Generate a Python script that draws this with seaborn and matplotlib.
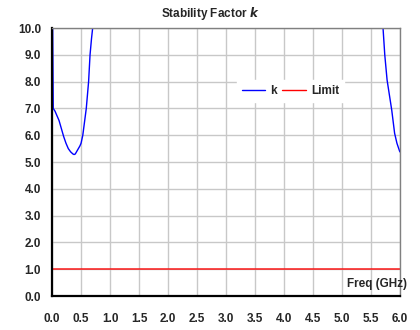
import numpy as np
import pandas as pd
import matplotlib.pyplot as plt
import seaborn as sns
from matplotlib.ticker import MultipleLocator

# Data
freq_ghz = [0.0, 0.01, 0.02, 0.05, 0.08, 0.12, 0.16, 0.20, 0.24, 0.28, 0.32, 0.36,
            0.38, 0.40, 0.44, 0.48, 0.50, 0.53, 0.56, 0.59, 0.61, 0.63, 0.655,
            0.68, 0.70, 0.75, 1.0, 5.5, 5.68, 5.71, 5.74, 5.78, 5.82, 5.86, 5.91,
            5.95, 6.0]
k_vals = [40.0, 10.0, 7.0, 6.9, 6.75, 6.55, 6.25, 5.95, 5.7, 5.5, 5.38, 5.3,
          5.28, 5.3, 5.45, 5.6, 5.7, 6.0, 6.5, 7.0, 7.5, 8.0, 9.0,
          9.6, 10.0, 11.5, 60.0, 60.0, 10.8, 10.0, 9.0, 8.06, 7.5, 6.94, 6.07,
          5.7, 5.38]
limit_freq = [0.0, 6.0]
limit_vals = [1.0, 1.0]


def main():
    df_k = pd.DataFrame({'freq': freq_ghz, 'k': k_vals})
    df_lim = pd.DataFrame({'freq': limit_freq, 'k': limit_vals})

    sns.set_style('white')
    plt.rcParams['font.family'] = ['Liberation Sans', 'DejaVu Sans']
    plt.rcParams['font.weight'] = 'bold'

    fig, ax = plt.subplots(figsize=(4.2, 3.3), dpi=100)
    fig.subplots_adjust(left=0.124, right=0.952, top=0.915, bottom=0.103)

    sns.lineplot(data=df_k, x='freq', y='k', color='#0000ff', linewidth=1.0,
                 sort=False, estimator=None, label='k', ax=ax)
    sns.lineplot(data=df_lim, x='freq', y='k', color='#ff0000', linewidth=1.4,
                 alpha=0.7, sort=False, estimator=None, label='Limit', ax=ax)

    ax.set_xlim(0, 6)
    ax.set_ylim(0, 10)
    ax.xaxis.set_major_locator(MultipleLocator(0.5))
    ax.xaxis.set_minor_locator(MultipleLocator(0.1))
    ax.yaxis.set_major_locator(MultipleLocator(1.0))
    ax.yaxis.set_minor_locator(MultipleLocator(0.2))
    ax.set_xticklabels([f'{v:.1f}' for v in ax.get_xticks()])
    ax.set_yticklabels([f'{v:.1f}' for v in ax.get_yticks()])

    ax.grid(which='major', color='#c8c8c8', linewidth=1.0)
    ax.set_axisbelow(True)
    ax.tick_params(which='both', direction='in', color='black',
                   labelsize=8.5)
    ax.tick_params(which='major', length=4, width=1)
    ax.tick_params(which='minor', length=3, width=1)
    ax.tick_params(axis='x', pad=12)
    ax.tick_params(axis='y', pad=8)
    for lab in ax.get_xticklabels() + ax.get_yticklabels():
        lab.set_fontweight('bold')

    for side in ['left', 'bottom']:
        ax.spines[side].set_color('black')
        ax.spines[side].set_linewidth(1.6)
    for side in ['top', 'right']:
        ax.spines[side].set_color('#808080')
        ax.spines[side].set_linewidth(1.0)

    ax.set_xlabel('')
    ax.set_ylabel('')
    ax.text(1.02, 0.045, 'Freq (GHz)', transform=ax.transAxes, ha='right',
            va='center', fontsize=8.5, fontweight='bold', clip_on=False)
    fig.suptitle(r'Stability Factor $\mathbfit{k}$', fontsize=8.5,
                 fontweight='bold', x=0.5, y=0.96, va='center')

    leg = ax.legend(loc='center', bbox_to_anchor=(0.685, 0.765), ncol=2,
                    frameon=True, fontsize=8.5, handlelength=2.0,
                    columnspacing=0.5, handletextpad=0.4, borderpad=0.4)
    leg.get_frame().set_edgecolor('white')
    leg.get_frame().set_facecolor('white')
    leg.get_frame().set_alpha(1.0)
    leg.get_frame().set_boxstyle('square', pad=0.0)
    for t in leg.get_texts():
        t.set_fontweight('bold')
    for h in leg.get_lines():
        h.set_alpha(1.0)
        h.set_linewidth(1.0)

    plt.savefig('out.png', dpi=100)


if __name__ == "__main__":
    main()
